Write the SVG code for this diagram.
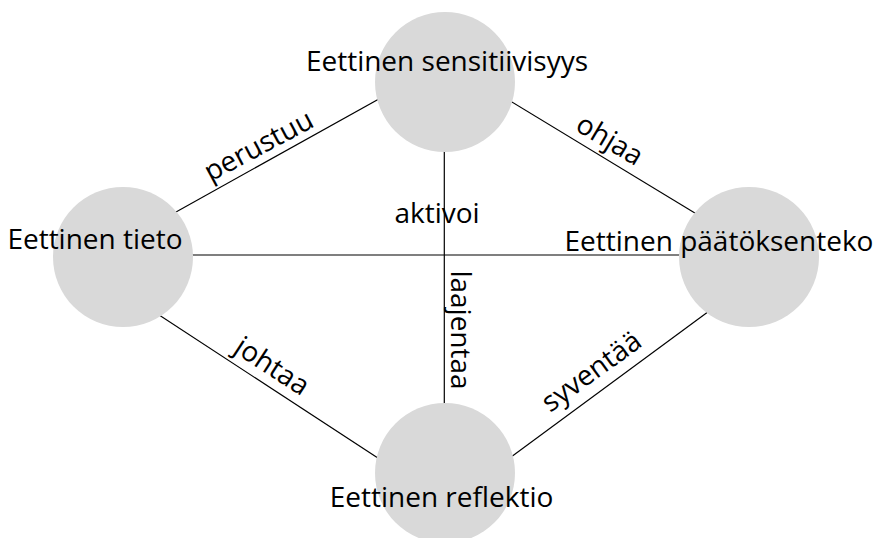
<svg xmlns="http://www.w3.org/2000/svg" width="874" height="538" viewBox="0 0 874 538">
  <style>
    .edge { stroke: #000; stroke-width: 1.2; fill: none; }
    .node { fill: #d9d9d9; }
    text { font-family: "Open Sans", "Liberation Sans", sans-serif; font-size: 28px; fill: #000; }
    .mid { text-anchor: middle; }
  </style>
  <rect width="874" height="538" fill="#fff"/>
  <g id="connectors">
    <line class="edge" x1="400" y1="87.2" x2="150" y2="226.5"/>
    <line class="edge" x1="480" y1="82.6" x2="720" y2="228.2"/>
    <line class="edge" x1="140" y1="302.6" x2="410" y2="478.9"/>
    <line class="edge" x1="480" y1="479.9" x2="720" y2="303"/>
    <line class="edge" x1="444.3" y1="120" x2="444.3" y2="440"/>
    <line class="edge" x1="160" y1="255" x2="710" y2="255"/>
  </g>
  <g id="node-sensitiivisyys">
    <circle class="node" cx="445" cy="82" r="70"/>
  </g>
  <g id="node-tieto">
    <circle class="node" cx="123" cy="257" r="70"/>
  </g>
  <g id="node-paatoksenteko">
    <circle class="node" cx="749" cy="257" r="70"/>
  </g>
  <g id="node-reflektio">
    <circle class="node" cx="445" cy="473" r="70"/>
  </g>
  <g id="labels">
    <text class="mid" x="447" y="71">Eettinen sensitiivisyys</text>
    <text class="mid" x="95" y="249">Eettinen tieto</text>
    <text class="mid" x="719" y="251">Eettinen päätöksenteko</text>
    <text class="mid" x="441.5" y="507">Eettinen reflektio</text>
  </g>
  <g id="edge-labels">
    <text class="mid" transform="translate(263,154) rotate(-28)">perustuu</text>
    <text class="mid" transform="translate(605,148) rotate(31)">ohjaa</text>
    <text class="mid" transform="translate(267,374) rotate(33)">johtaa</text>
    <text class="mid" transform="translate(597,379) rotate(-36)">syventää</text>
    <text class="mid" x="437" y="223">aktivoi</text>
    <text class="mid" transform="translate(451,330) rotate(90)">laajentaa</text>
  </g>
</svg>
